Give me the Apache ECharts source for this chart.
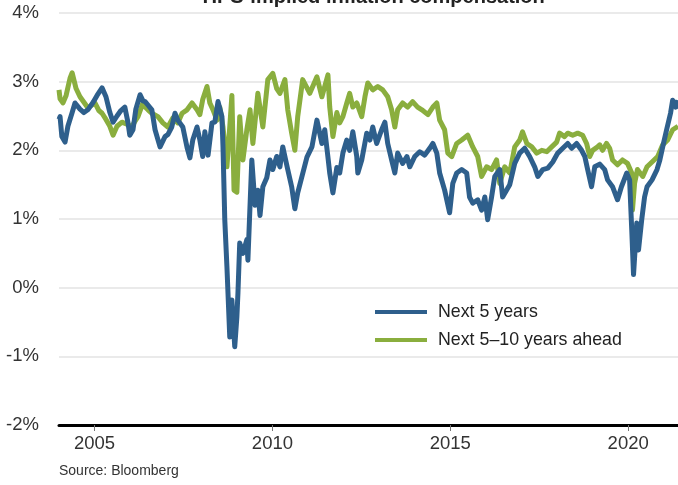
<!DOCTYPE html>
<html>
<head>
<meta charset="utf-8">
<script src="https://cdn.jsdelivr.net/npm/echarts@6/dist/echarts.min.js"></script>
<style>
html,body{margin:0;padding:0;background:#fff;}
#chart{width:678px;height:485px;}
</style>
</head>
<body>
<div id="chart"></div>
<script>
const titleText = "TIPS-implied inflation compensation";
const sourceText = "Source: Bloomberg";
const seriesNames = ["Next 5 years", "Next 5\u201310 years ahead"];
const xTickYears = [2005, 2010, 2015, 2020];
const yTicks = [-2, -1, 0, 1, 2, 3, 4];

const next5Years = [2004.00,2004.03,2004.08,2004.17,2004.25,2004.37,2004.45,2004.59,2004.70,2004.81,2004.96,2005.07,2005.21,2005.32,2005.43,2005.52,2005.63,2005.74,2005.85,2005.94,2005.99,2006.08,2006.16,2006.28,2006.36,2006.42,2006.50,2006.61,2006.70,2006.84,2006.98,2007.06,2007.17,2007.26,2007.34,2007.48,2007.60,2007.68,2007.76,2007.88,2007.96,2008.04,2008.10,2008.19,2008.30,2008.38,2008.47,2008.58,2008.61,2008.66,2008.72,2008.80,2008.86,2008.94,2009.00,2009.03,2009.08,2009.17,2009.28,2009.31,2009.42,2009.51,2009.59,2009.65,2009.73,2009.84,2009.93,2010.01,2010.12,2010.21,2010.29,2010.43,2010.54,2010.63,2010.71,2010.83,2010.97,2011.11,2011.25,2011.39,2011.47,2011.56,2011.61,2011.70,2011.81,2011.89,2011.98,2012.09,2012.17,2012.26,2012.37,2012.40,2012.51,2012.65,2012.74,2012.82,2012.93,2013.07,2013.16,2013.24,2013.35,2013.44,2013.52,2013.66,2013.78,2013.86,2014.00,2014.14,2014.28,2014.42,2014.51,2014.62,2014.70,2014.84,2014.98,2015.07,2015.18,2015.32,2015.46,2015.54,2015.63,2015.77,2015.88,2015.97,2016.05,2016.16,2016.25,2016.39,2016.47,2016.58,2016.67,2016.81,2016.95,2017.09,2017.23,2017.37,2017.46,2017.60,2017.74,2017.88,2018.02,2018.16,2018.30,2018.41,2018.55,2018.69,2018.78,2018.86,2018.97,2019.06,2019.20,2019.34,2019.42,2019.56,2019.70,2019.81,2019.96,2020.04,2020.10,2020.15,2020.24,2020.29,2020.38,2020.46,2020.53,2020.67,2020.81,2020.89,2020.97,2021.08,2021.19,2021.25,2021.34,2021.40];
const next5Values = [2.45,2.49,2.20,2.12,2.35,2.55,2.69,2.60,2.55,2.59,2.70,2.80,2.91,2.78,2.55,2.41,2.50,2.58,2.63,2.40,2.22,2.30,2.60,2.81,2.72,2.71,2.66,2.59,2.30,2.05,2.20,2.23,2.34,2.54,2.44,2.34,2.04,1.89,2.15,2.34,2.15,1.91,2.27,1.93,2.40,2.41,2.71,2.49,2.05,0.99,0.31,-0.72,-0.18,-0.86,-0.43,-0.08,0.65,0.50,0.70,0.40,1.86,1.20,1.42,1.05,1.47,1.60,1.86,1.72,1.91,1.76,2.05,1.72,1.47,1.15,1.38,1.62,1.90,2.05,2.44,2.10,2.30,1.90,1.67,1.38,1.75,1.67,1.96,2.15,2.00,2.27,1.91,1.67,1.86,2.25,2.15,2.34,2.10,2.30,2.41,2.10,1.86,1.67,1.96,1.81,1.91,1.76,1.91,1.98,1.93,2.03,2.10,1.96,1.67,1.42,1.09,1.52,1.67,1.72,1.67,1.32,1.23,1.28,1.13,1.32,0.99,1.32,1.62,1.72,1.32,1.42,1.50,1.81,1.96,2.03,1.91,1.76,1.62,1.72,1.74,1.83,1.96,2.03,2.10,2.03,2.10,2.00,1.91,1.72,1.47,1.76,1.80,1.72,1.57,1.47,1.28,1.47,1.67,1.57,0.84,0.19,0.94,0.55,0.99,1.32,1.47,1.57,1.72,1.86,2.05,2.30,2.54,2.73,2.63,2.73];

const next5to10Years = [2004.00,2004.03,2004.11,2004.20,2004.31,2004.37,2004.48,2004.59,2004.70,2004.81,2004.93,2005.01,2005.12,2005.21,2005.32,2005.43,2005.52,2005.63,2005.77,2005.91,2006.05,2006.13,2006.22,2006.36,2006.42,2006.50,2006.61,2006.78,2006.92,2007.06,2007.20,2007.34,2007.46,2007.60,2007.74,2007.88,2007.96,2008.04,2008.16,2008.24,2008.33,2008.44,2008.52,2008.61,2008.72,2008.80,2008.86,2008.92,2009.00,2009.08,2009.17,2009.28,2009.37,2009.45,2009.59,2009.73,2009.87,2010.01,2010.12,2010.21,2010.35,2010.43,2010.54,2010.63,2010.71,2010.85,2011.05,2011.25,2011.39,2011.56,2011.61,2011.70,2011.81,2011.89,2011.98,2012.09,2012.17,2012.26,2012.37,2012.51,2012.60,2012.68,2012.82,2012.96,2013.10,2013.24,2013.35,2013.44,2013.52,2013.66,2013.80,2013.94,2014.08,2014.20,2014.37,2014.51,2014.62,2014.70,2014.84,2014.93,2015.04,2015.18,2015.32,2015.49,2015.63,2015.77,2015.88,2016.02,2016.16,2016.30,2016.39,2016.53,2016.67,2016.81,2016.95,2017.03,2017.15,2017.29,2017.43,2017.57,2017.71,2017.85,2017.99,2018.07,2018.21,2018.30,2018.44,2018.58,2018.72,2018.83,2018.92,2019.00,2019.14,2019.20,2019.28,2019.39,2019.48,2019.56,2019.70,2019.84,2019.98,2020.10,2020.12,2020.18,2020.26,2020.41,2020.53,2020.67,2020.83,2020.97,2021.11,2021.25,2021.40];
const next5to10Values = [2.88,2.75,2.69,2.80,3.05,3.13,2.90,2.78,2.70,2.62,2.66,2.69,2.58,2.54,2.45,2.35,2.22,2.35,2.41,2.38,2.34,2.42,2.49,2.69,2.63,2.59,2.54,2.49,2.40,2.34,2.47,2.40,2.54,2.59,2.69,2.59,2.52,2.74,2.93,2.69,2.59,2.44,2.63,2.34,1.76,2.34,2.80,1.42,1.39,2.49,1.86,2.30,2.59,2.10,2.83,2.34,3.03,3.12,2.90,2.83,3.03,2.59,2.25,2.00,2.49,3.03,2.83,3.07,2.78,3.10,2.63,2.20,2.55,2.40,2.49,2.69,2.83,2.63,2.69,2.49,2.78,2.98,2.88,2.93,2.88,2.78,2.59,2.34,2.59,2.69,2.63,2.71,2.63,2.59,2.52,2.63,2.69,2.44,2.30,1.96,1.91,2.10,2.15,2.22,2.05,1.91,1.62,1.76,1.72,1.86,1.52,1.76,1.67,2.05,2.15,2.27,2.10,2.05,1.96,2.00,1.98,2.05,2.12,2.25,2.20,2.25,2.22,2.25,2.22,2.10,1.91,2.00,2.05,2.08,2.00,2.10,2.03,1.86,1.79,1.86,1.81,1.67,1.13,1.52,1.72,1.62,1.76,1.83,1.91,2.08,2.15,2.30,2.35];

function pairs(xs, ys){ return xs.map((x,i)=>[x, ys[i]]); }

const FONT = "Liberation Sans, Arial, sans-serif";
const chart = echarts.init(document.getElementById('chart'), null, {renderer:'canvas'});
chart.setOption({
  animation:false,
  backgroundColor:'#ffffff',
  textStyle:{fontFamily:FONT},
  graphic:[
    {type:'text', x:372, y:7, style:{text:titleText, fill:'#222', font:'bold 20px '+FONT, textAlign:'center', textVerticalAlign:'bottom'}},
    {type:'text', x:59, y:464, style:{text:sourceText, fill:'#333', font:'14px '+FONT, textAlign:'left', textVerticalAlign:'top'}}
  ],
  grid:{left:59, right:0, top:13, bottom:60, containLabel:false},
  legend:{
    orient:'vertical', left:375, top:303, padding:0, itemWidth:52, itemHeight:4, itemGap:10,
    icon:'rect',
    textStyle:{fontSize:17.8, color:'#222', fontFamily:FONT, lineHeight:18, padding:[0,0,0,6]},
    data:seriesNames
  },
  xAxis:{
    type:'value', min:2004, max:2021.4,
    axisLine:{show:true, onZero:false, lineStyle:{color:'#000', width:3}},
    axisTick:{show:true, length:6, lineStyle:{color:'#777', width:1}, customValues:xTickYears},
    axisLabel:{fontSize:18.5, color:'#333', margin:9, fontFamily:FONT, customValues:xTickYears, formatter:v=>String(Math.round(v))},
    splitLine:{show:false}
  },
  yAxis:{
    type:'value', min:-2, max:4, interval:1,
    axisLine:{show:false}, axisTick:{show:false},
    axisLabel:{fontSize:18.5, color:'#333', margin:20, fontFamily:FONT, formatter:v=>v+'%'},
    splitLine:{show:true, lineStyle:{color:'#e3e3e3', width:1.5}}
  },
  series:[
    {name:seriesNames[0], type:'line', showSymbol:false, symbol:'none', color:'#2e5f8c',
     lineStyle:{width:5, color:'#2e5f8c', join:'round'}, data:pairs(next5Years, next5Values), z:3},
    {name:seriesNames[1], type:'line', showSymbol:false, symbol:'none', color:'#8aae3e',
     lineStyle:{width:5, color:'#8aae3e', join:'round'}, data:pairs(next5to10Years, next5to10Values), z:2}
  ]
});
</script>
</body>
</html>
